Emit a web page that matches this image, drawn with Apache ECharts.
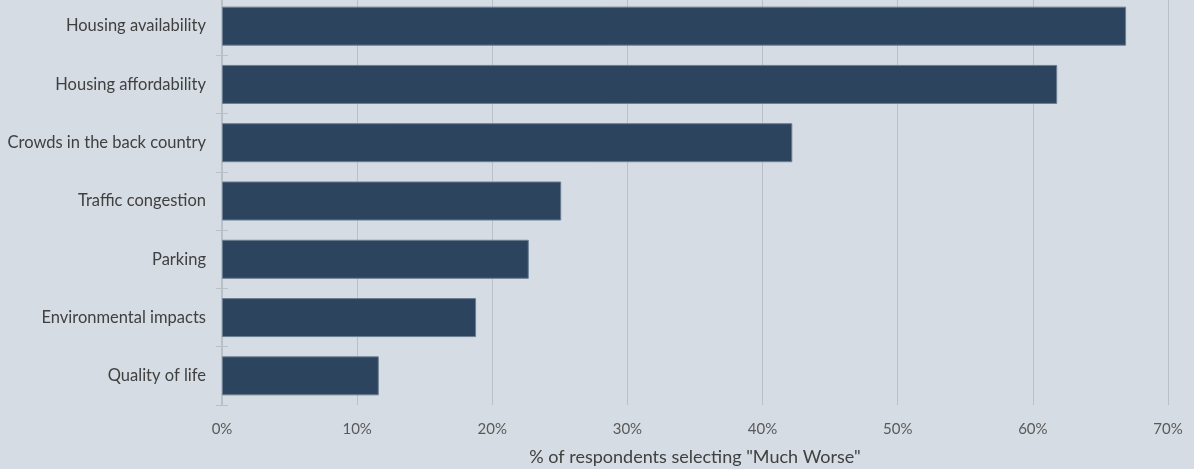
<!DOCTYPE html>
<html>
<head>
<meta charset="utf-8">
<script src="https://cdn.jsdelivr.net/npm/echarts@6/dist/echarts.min.js"></script>
<style>
html,body{margin:0;padding:0;background:#d5dce3;}
#c{width:1194px;height:469px;}
</style>
</head>
<body>
<div id="c"></div>
<script>
const categories = ["Housing availability","Housing affordability","Crowds in the back country","Traffic congestion","Parking","Environmental impacts","Quality of life"];
const values = [66.9, 61.8, 42.2, 25.1, 22.7, 18.8, 11.6];
const xTicks = {min: 0, max: 70, interval: 10};
const axisName = '% of respondents selecting "Much Worse"';

const FONT = 'Lato, "Open Sans", sans-serif';
const chart = echarts.init(document.getElementById('c'), null, {renderer: 'canvas'});
chart.setOption({
  backgroundColor: '#d5dce3',
  animation: false,
  grid: {left: 222, width: 946, top: -3, height: 408, containLabel: false, outerBoundsMode: 'none'},
  xAxis: {
    type: 'value', min: xTicks.min, max: xTicks.max, interval: xTicks.interval,
    axisLine: {show: false}, axisTick: {show: false},
    splitLine: {lineStyle: {color: '#b9c0c8', width: 1}},
    axisLabel: {formatter: '{value}%', color: '#595959', fontFamily: FONT, fontSize: 15, margin: 17},
    name: axisName, nameLocation: 'middle', nameGap: 43,
    nameTextStyle: {color: '#404040', fontFamily: FONT, fontSize: 18}
  },
  yAxis: [{
    type: 'category', data: categories, inverse: true,
    axisLine: {lineStyle: {color: '#b9c0c8', width: 2}},
    axisTick: {show: true, length: 6, lineStyle: {color: '#b9c0c8', width: 1}},
    axisLabel: {color: '#404040', fontFamily: FONT, fontSize: 16.5, margin: 16}
  }, {
    type: 'category', data: categories, inverse: true, position: 'left',
    axisLine: {show: false},
    axisTick: {show: true, inside: true, length: 6, lineStyle: {color: '#b9c0c8', width: 1}},
    axisLabel: {show: false}
  }],
  series: [{
    type: 'bar', data: values, barWidth: 39,
    itemStyle: {color: '#2c445e', borderColor: '#6a7d92', borderWidth: 1}
  }]
});
</script>
</body>
</html>
